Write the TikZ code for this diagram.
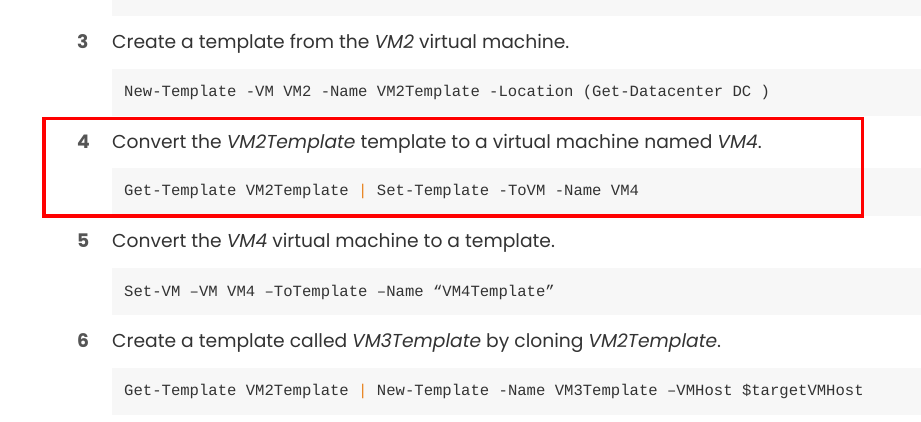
\documentclass[tikz,border=0pt]{standalone}
\usepackage{fontspec}
\setmainfont{Poppins}
\setmonofont{Liberation Mono}
\definecolor{codebg}{HTML}{F7F7F7}
\definecolor{bodytext}{HTML}{333333}
\definecolor{numtext}{HTML}{555555}
\definecolor{codetext}{HTML}{333333}
\definecolor{pipe}{HTML}{E8841F}
\definecolor{hilite}{HTML}{FF0000}
\newcommand{\pp}{\textcolor{pipe}{|}}
\begin{document}
\begin{tikzpicture}[x=1pt,y=-1pt,
  codebox/.style={fill=codebg, draw=none},
  body/.style={anchor=base west, inner sep=0pt, text=bodytext, font=\fontsize{18.7}{21}\selectfont},
  num/.style={anchor=base west, inner sep=0pt, text=numtext, font=\fontsize{18.7}{21}\selectfont\bfseries},
  code/.style={anchor=base west, inner sep=0pt, text=codetext, font=\fontsize{15.6}{18}\ttfamily},
  redframe/.style={draw=hilite, line width=3.5pt}]
\useasboundingbox (0,0) rectangle (921,421);
% code backgrounds
\fill[codebox] (112,0) rectangle (921,16);
\fill[codebox] (112,69) rectangle (921,115.5);
\fill[codebox] (112,168) rectangle (921,215.5);
\fill[codebox] (112,268) rectangle (921,315);
\fill[codebox] (112,368) rectangle (921,415);
% step 3
\node[num] (n3) at (77,48) {3};
\node[body] (t3) at (112,48) {Create a template from the \textit{VM2} virtual machine.};
\node[code] (c3) at (124,96) {New-Template -VM VM2 -Name VM2Template -Location (Get-Datacenter DC )};
% step 4
\node[num] (n4) at (77,148) {4};
\node[body] (t4) at (112,148) {Convert the \textit{VM2Template} template to a virtual machine named \textit{VM4}.};
\node[code] (c4) at (124,195) {Get-Template VM2Template \pp{} Set-Template -ToVM -Name VM4};
% step 5
\node[num] (n5) at (77,247) {5};
\node[body] (t5) at (112,247) {Convert the \textit{VM4} virtual machine to a template.};
\node[code] (c5) at (124,296) {Set-VM –VM VM4 –ToTemplate –Name “VM4Template”};
% step 6
\node[num] (n6) at (77,347) {6};
\node[body] (t6) at (112,347) {Create a template called \textit{VM3Template} by cloning \textit{VM2Template}.};
\node[code] (c6) at (124,395) {Get-Template VM2Template \pp{} New-Template -Name VM3Template –VMHost \$targetVMHost};
% highlight frame
\draw[redframe] (44,118.5) rectangle (862.5,216);
\end{tikzpicture}
\end{document}
